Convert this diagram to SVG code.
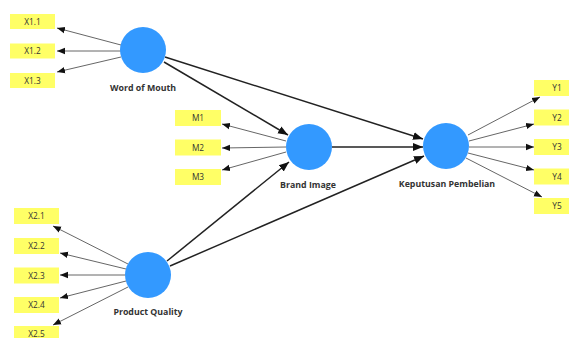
<svg xmlns="http://www.w3.org/2000/svg" width="569" height="338" viewBox="0 0 569 338">
  <style>
    .construct { fill: #3399ff; }
    .ind rect { fill: #ffff66; }
    .ind text { font-family: "Open Sans", "Noto Sans", sans-serif; font-size: 8.3px; fill: #333; text-anchor: middle; }
    .lbl { font-family: "Open Sans", "Noto Sans", sans-serif; font-size: 8.8px; font-weight: bold; fill: #333; text-anchor: middle; }
    .outer { stroke: #555; stroke-width: 0.9; fill: none; marker-end: url(#tipS); }
    .inner { stroke: #222; stroke-width: 1.5; fill: none; marker-end: url(#tipL); }
  </style>
  <defs>
    <marker id="tipS" markerUnits="userSpaceOnUse" markerWidth="8" markerHeight="8" viewBox="0 0 8 8" refX="8" refY="4" orient="auto">
      <path d="M0,0.8 L8,4 L0,7.2 Z" fill="#111"/>
    </marker>
    <marker id="tipL" markerUnits="userSpaceOnUse" markerWidth="10" markerHeight="10" viewBox="0 0 10 10" refX="10" refY="5" orient="auto">
      <path d="M0,1 L10,5 L0,9 Z" fill="#111"/>
    </marker>
  </defs>
  <rect width="569" height="338" fill="#ffffff"/>

  <!-- connectors -->
  <g id="connectors">
    <!-- Word of Mouth indicators -->
    <line class="outer" x1="121" y1="45" x2="57" y2="28"/>
    <line class="outer" x1="121" y1="51" x2="57" y2="51"/>
    <line class="outer" x1="121" y1="57" x2="57" y2="72"/>
    <!-- Brand Image indicators -->
    <line class="outer" x1="286" y1="141" x2="222" y2="124"/>
    <line class="outer" x1="286" y1="147" x2="222" y2="148"/>
    <line class="outer" x1="286" y1="152" x2="222" y2="170"/>
    <!-- Keputusan Pembelian indicators -->
    <line class="outer" x1="468" y1="135" x2="540" y2="97"/>
    <line class="outer" x1="469" y1="141" x2="534" y2="124"/>
    <line class="outer" x1="469" y1="147" x2="534" y2="147"/>
    <line class="outer" x1="468" y1="153" x2="534" y2="170"/>
    <line class="outer" x1="466" y1="158" x2="542" y2="197"/>
    <!-- Product Quality indicators -->
    <line class="outer" x1="128" y1="264" x2="53" y2="226"/>
    <line class="outer" x1="126" y1="269" x2="60" y2="253"/>
    <line class="outer" x1="125" y1="275" x2="60" y2="275"/>
    <line class="outer" x1="126" y1="281" x2="60" y2="298"/>
    <line class="outer" x1="128" y1="287" x2="53" y2="325"/>
    <!-- structural paths -->
    <line class="inner" x1="164" y1="62" x2="288" y2="135"/>
    <line class="inner" x1="165" y1="57" x2="423" y2="139"/>
    <line class="inner" x1="332" y1="147" x2="423" y2="147"/>
    <line class="inner" x1="167" y1="261" x2="289" y2="162"/>
    <line class="inner" x1="170" y1="266" x2="424" y2="156"/>
  </g>

  <!-- constructs -->
  <g id="word-of-mouth">
    <circle class="construct" cx="143" cy="50" r="23"/>
    <text class="lbl" x="143" y="91">Word of Mouth</text>
  </g>
  <g id="brand-image">
    <circle class="construct" cx="309" cy="147" r="23"/>
    <text class="lbl" x="308" y="188">Brand Image</text>
  </g>
  <g id="keputusan-pembelian">
    <circle class="construct" cx="446" cy="146" r="23"/>
    <text class="lbl" x="447" y="187">Keputusan Pembelian</text>
  </g>
  <g id="product-quality">
    <circle class="construct" cx="148" cy="275" r="23"/>
    <text class="lbl" x="148" y="315">Product Quality</text>
  </g>

  <!-- indicators -->
  <g id="x1-1" class="ind"><rect x="10" y="14" width="45" height="15"/><text x="32.5" y="24.5">X1.1</text></g>
  <g id="x1-2" class="ind"><rect x="10" y="43.5" width="45" height="15"/><text x="32.5" y="54">X1.2</text></g>
  <g id="x1-3" class="ind"><rect x="10" y="73" width="45" height="15"/><text x="32.5" y="83.5">X1.3</text></g>

  <g id="m1" class="ind"><rect x="175" y="110" width="46" height="16"/><text x="198" y="121">M1</text></g>
  <g id="m2" class="ind"><rect x="175" y="139.5" width="46" height="16"/><text x="198" y="150.5">M2</text></g>
  <g id="m3" class="ind"><rect x="175" y="169" width="46" height="16"/><text x="198" y="180">M3</text></g>

  <g id="y1" class="ind"><rect x="534" y="80" width="46" height="16"/><text x="557" y="91">Y1</text></g>
  <g id="y2" class="ind"><rect x="534" y="109.5" width="46" height="16"/><text x="557" y="120.5">Y2</text></g>
  <g id="y3" class="ind"><rect x="534" y="139" width="46" height="16"/><text x="557" y="150">Y3</text></g>
  <g id="y4" class="ind"><rect x="534" y="168.5" width="46" height="16"/><text x="557" y="179.5">Y4</text></g>
  <g id="y5" class="ind"><rect x="534" y="198" width="46" height="16"/><text x="557" y="209">Y5</text></g>

  <g id="x2-1" class="ind"><rect x="14" y="208" width="45" height="16"/><text x="36.5" y="219">X2.1</text></g>
  <g id="x2-2" class="ind"><rect x="14" y="238" width="45" height="16"/><text x="36.5" y="249">X2.2</text></g>
  <g id="x2-3" class="ind"><rect x="14" y="267.5" width="45" height="16"/><text x="36.5" y="278.5">X2.3</text></g>
  <g id="x2-4" class="ind"><rect x="14" y="297" width="45" height="16"/><text x="36.5" y="308">X2.4</text></g>
  <g id="x2-5" class="ind"><rect x="14" y="326" width="45" height="16"/><text x="36.5" y="337">X2.5</text></g>
</svg>
